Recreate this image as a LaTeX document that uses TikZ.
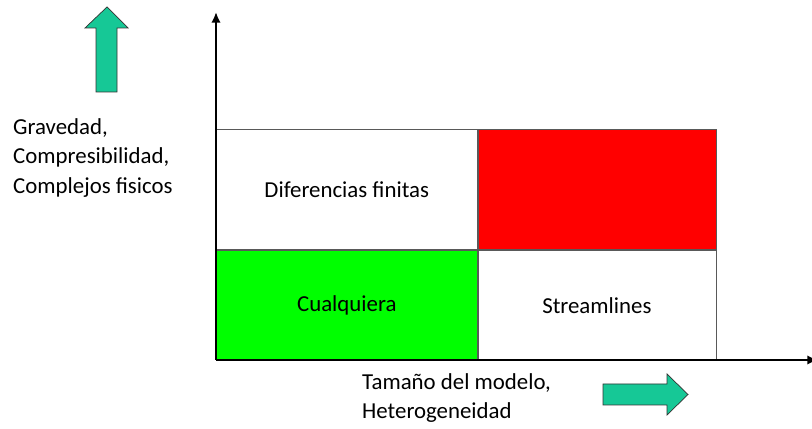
\documentclass[tikz,border=0pt]{standalone}
\usepackage{fontspec}
\setmainfont{Carlito}
\usepackage[dvipsnames]{xcolor}
\usetikzlibrary{arrows.meta,positioning}
\definecolor{flecha}{RGB}{22,200,150}
\definecolor{rojo}{RGB}{255,0,0}
\definecolor{verde}{RGB}{0,255,0}
\tikzset{
    cell/.style={draw=gray!70!black,line width=0.5pt,minimum width=#1*0.03cm,inner sep=0pt,font=\fontsize{19.5}{24}\selectfont},
    axisline/.style={line width=2.2pt,-{Latex[length=9pt,width=8pt]}},
    bigarrow/.style={fill=flecha,draw=black!80,line width=0.6pt,line join=miter},
    label/.style={align=left,inner sep=0pt,font=\fontsize{19.5}{25.2}\selectfont}
}

\begin{document}
\begin{tikzpicture}[x=0.03cm,y=0.03cm]
\useasboundingbox (0,0) rectangle (812,429); % page frame
\coordinate (O) at (216,69); % origin of the axes
\coordinate (Y) at (216,417); % top of vertical axis
\coordinate (X) at (818,69); % end of horizontal axis
% table cells
\node[cell=261,minimum height=120*0.03cm,anchor=south west] (difer) at (216,179) {Diferencias finitas};
\node[cell=238,minimum height=120*0.03cm,anchor=west,fill=rojo] (rojo) at (difer.east) {};
\node[cell=261,minimum height=110*0.03cm,anchor=north,fill=verde] (cualq) at (difer.south) {Cualquiera};
\node[cell=238,minimum height=110*0.03cm,anchor=west] (stream) at (cualq.east) {Streamlines};
% axes
\draw[axisline] (O) -- (Y);
\draw[axisline] (O) -- (X);
% axis labels
\node[label,anchor=west] (ylab) at (13,271) {Gravedad,\\Compresibilidad,\\Complejos fisicos};
\node[label,anchor=west] (xlab) at (362,31) {Tamaño del modelo,\\Heterogeneidad};
% green block arrows
\draw[bigarrow] (96,337) -- (96,401) -- (85,401) -- (107,422) -- (128,401) -- (117,401) -- (117,337) -- cycle; % up arrow
\draw[bigarrow] (603,24) -- (667,24) -- (667,14) -- (688,34.5) -- (667,55) -- (667,45) -- (603,45) -- cycle; % right arrow
\end{tikzpicture}
\end{document}
